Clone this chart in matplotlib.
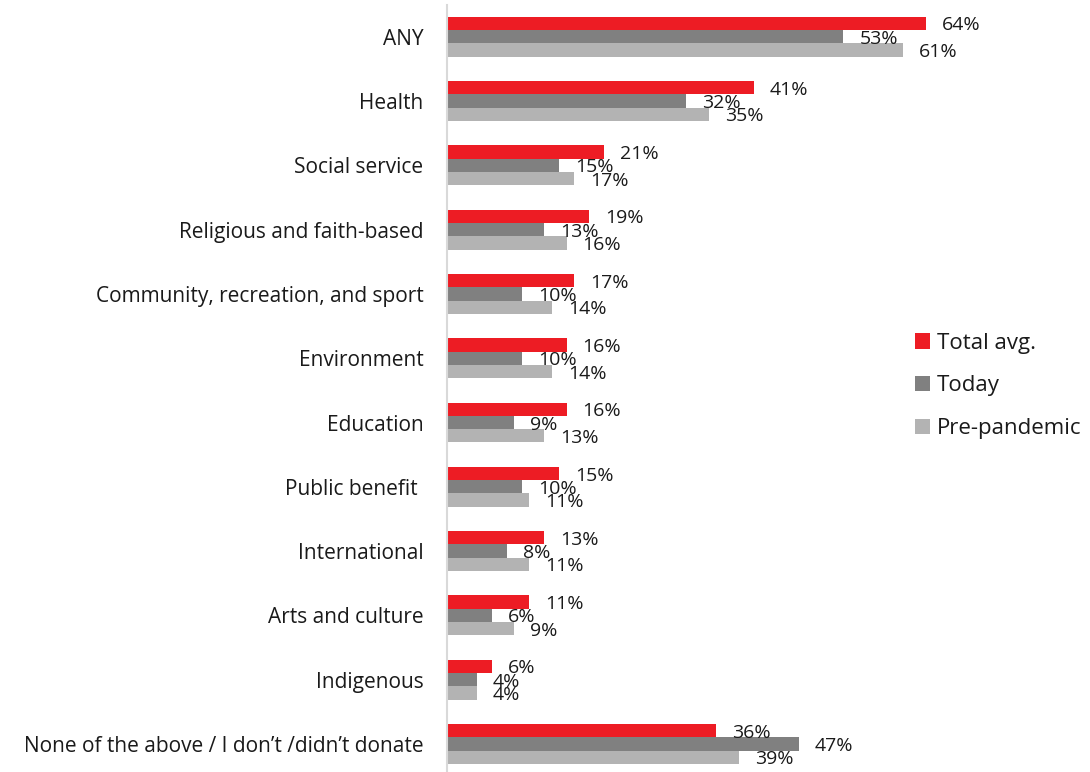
import matplotlib
matplotlib.use("Agg")
import matplotlib.pyplot as plt
import numpy as np

# ── data ─────────────────────────────────────────────────────────────────────
categories = [
    "ANY", "Health", "Social service", "Religious and faith-based",
    "Community, recreation, and sport", "Environment", "Education",
    "Public benefit ", "International", "Arts and culture", "Indigenous",
    "None of the above / I don\u2019t /didn\u2019t donate",
]
total_avg    = [64, 41, 21, 19, 17, 16, 16, 15, 13, 11, 6, 36]
today        = [53, 32, 15, 13, 10, 10, 9, 10, 8, 6, 4, 47]
pre_pandemic = [61, 35, 17, 16, 14, 14, 13, 11, 11, 9, 4, 39]

series = [
    ("Total avg.",  total_avg,    "#ED1C24"),
    ("Today",       today,        "#808080"),
    ("Pre-pandemic", pre_pandemic, "#B3B3B3"),
]

plt.rcParams["font.family"] = ["Open Sans", "DejaVu Sans"]
FS = 14      # value labels
CFS = 15     # category labels
LFS = 16     # legend
TXT = "#1a1a1a"

W, H = 1090, 772
fig = plt.figure(figsize=(W / 100, H / 100), dpi=100)

# plot area: y axis at x=447px, one category every 64.3px, first centred at 36.7px
left_px, first_px, step_px = 447, 36.7, 64.3
top_px = first_px - step_px / 2
px_per_pct = 7.48
xmax = 80
ax = fig.add_axes([left_px / W, 0, xmax * px_per_pct / W, 1 - top_px / H])
y_bottom = (H - first_px) / step_px

bar_h = 13.3 / step_px
y = np.arange(len(categories))
for k, (name, vals, color) in enumerate(series):
    pos = y + (k - 1) * bar_h
    ax.barh(pos, vals, height=bar_h, color=color, label=name, zorder=2)
    for yy, v in zip(pos, vals):
        ax.annotate(f"{v}%", (v, yy), xytext=(11.5, -1.5), textcoords="offset points",
                    ha="left", va="center", fontsize=FS, color=TXT)

ax.set_xlim(0, xmax)
ax.set_ylim(y_bottom, -0.5)
ax.set_yticks(y)
ax.set_yticklabels(categories, fontsize=CFS, color=TXT)
ax.tick_params(axis="y", length=0, pad=17)
ax.set_xticks([])
for s in ["top", "right", "bottom"]:
    ax.spines[s].set_visible(False)
ax.spines["left"].set_color("#D9D9D9")
ax.spines["left"].set_linewidth(1.5)

leg = fig.legend(loc="center left", bbox_to_anchor=(915 / W, 1 - 386 / H),
                 frameon=False, fontsize=LFS, borderpad=0, borderaxespad=0,
                 handlelength=0.68, handleheight=0.68, handletextpad=0.3,
                 labelspacing=0.98)
for t in leg.get_texts():
    t.set_color(TXT)

fig.savefig("out.png", dpi=100)
